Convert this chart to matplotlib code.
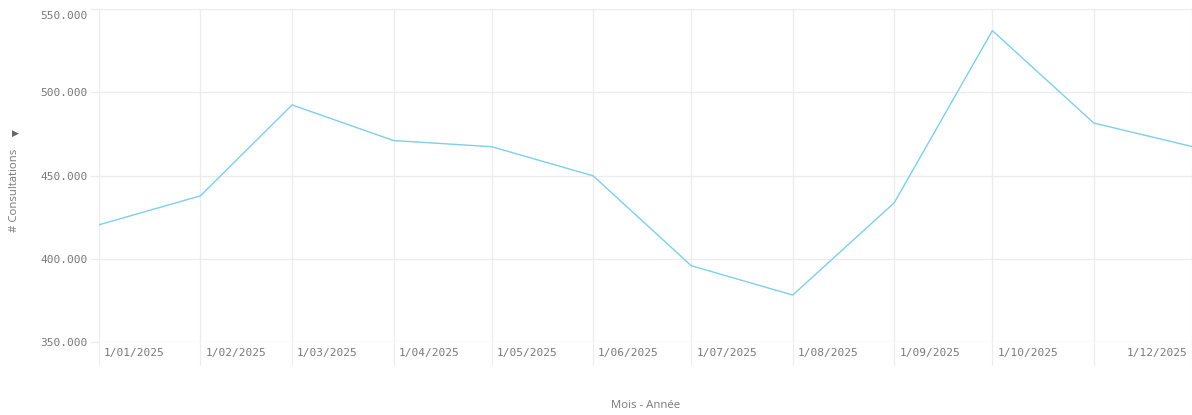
import matplotlib
matplotlib.use("Agg")
import matplotlib.pyplot as plt
import matplotlib.dates as mdates
import matplotlib.transforms as mtransforms
import numpy as np
from datetime import date

# Monthly consultations, 2025
months = [date(2025, m, 1) for m in range(1, 13)]
month_labels = ["1/01/2025", "1/02/2025", "1/03/2025", "1/04/2025", "1/05/2025",
                "1/06/2025", "1/07/2025", "1/08/2025", "1/09/2025", "1/10/2025",
                "1/11/2025", "1/12/2025"]
consultations = [420400, 437800, 492400, 471000, 467300, 449800,
                 395800, 378200, 433600, 537000, 481500, 467400]
y_ticks = [350000, 400000, 450000, 500000, 550000]
y_tick_labels = ["350.000", "400.000", "450.000", "500.000", "550.000"]

W, H = 1192, 415
DPI = 100
fig = plt.figure(figsize=(W / DPI, H / DPI), dpi=DPI)
fig.patch.set_facecolor("white")

left, right, top, bottom = 99, 1192, 9, 342
ax = fig.add_axes([left / W, (H - bottom) / H, (right - left) / W, (bottom - top) / H])

grid_c = "#ececec"
text_c = "#787878"
line_c = "#7ecfe8"

xnum = mdates.date2num(months)
ax.plot(xnum, consultations, color=line_c, lw=1.0, solid_joinstyle="miter", zorder=3)

ax.set_xlim(xnum[0], xnum[-1])
ax.set_ylim(y_ticks[0], y_ticks[-1])

for s in ax.spines.values():
    s.set_visible(False)

# Grid lines, with ticks drawn in the grid colour so they extend past the plot
ax.set_xticks(xnum)
ax.set_yticks(y_ticks)
ax.grid(True, color=grid_c, lw=0.9, zorder=0)
ax.tick_params(axis="x", length=23 * 72 / DPI, width=0.9, color=grid_c,
               labelbottom=False)
ax.tick_params(axis="y", length=9 * 72 / DPI, width=0.9, color=grid_c,
               pad=2, labelsize=8, labelcolor=text_c)
ax.set_yticklabels(y_tick_labels, fontfamily="DejaVu Sans Mono")
yl = ax.get_yticklabels()
yl[-1].set_verticalalignment("top")
yl[-1].set_transform(yl[-1].get_transform() +
                     mtransforms.ScaledTranslation(0, -2 / DPI, fig.dpi_scale_trans))

# Month labels sit just right of each grid line; the last is right-aligned
lbl_trans = mtransforms.blended_transform_factory(ax.transData, ax.transAxes)
below = -11 / (bottom - top)
n = len(months)
for i, (x, lab) in enumerate(zip(xnum, month_labels)):
    if i == n - 2:
        continue  # would collide with the final label
    if i == n - 1:
        off = mtransforms.ScaledTranslation(-5 / DPI, 0, fig.dpi_scale_trans)
        ax.text(x, below, lab, transform=lbl_trans + off, ha="right", va="center",
                fontsize=8, color=text_c, fontfamily="DejaVu Sans Mono", clip_on=False)
    else:
        off = mtransforms.ScaledTranslation(5 / DPI, 0, fig.dpi_scale_trans)
        ax.text(x, below, lab, transform=lbl_trans + off, ha="left", va="center",
                fontsize=8, color=text_c, fontfamily="DejaVu Sans Mono", clip_on=False)

# Axis titles
fig.text(15 / W, 1 - 190 / H, "# Consultations", rotation=90, ha="center", va="center",
         fontsize=8.2, color=text_c, fontfamily="Open Sans")
fig.text(15 / W, 1 - 133 / H, "\u25B6", ha="center", va="center",
         fontsize=6.5, color="#666666", fontfamily="DejaVu Sans")
fig.text(646 / W, 1 - 405 / H, "Mois - Ann\u00e9e", ha="center", va="center",
         fontsize=8.2, color=text_c, fontfamily="Open Sans")

fig.savefig("out.png", dpi=DPI, facecolor="white")
